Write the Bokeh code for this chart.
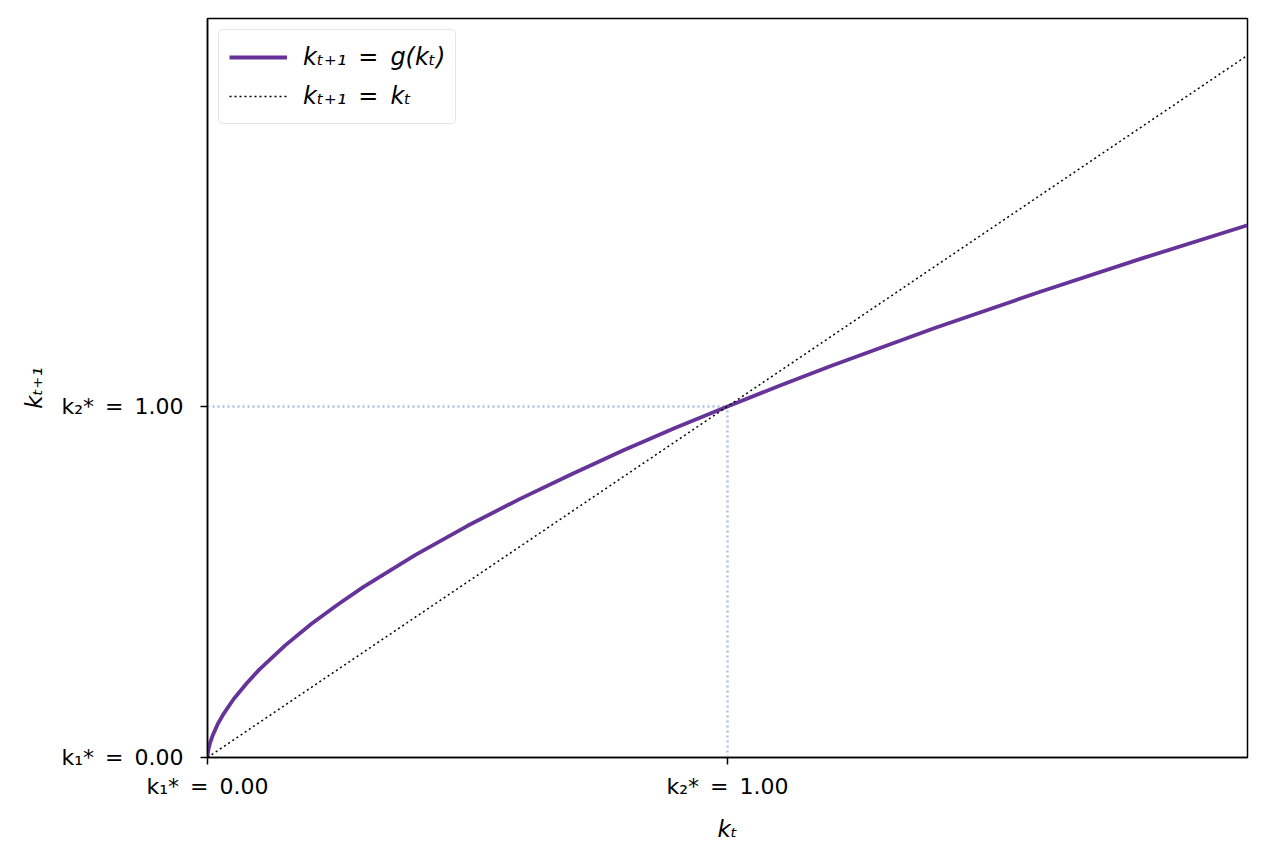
from bokeh.plotting import figure
from bokeh.models import Range1d, FixedTicker
from bokeh.embed import file_html
from bokeh.resources import INLINE

# Values
k_t = [0.0, 0.001, 0.002, 0.005, 0.01, 0.02, 0.03, 0.05, 0.075, 0.1, 0.15, 0.2, 0.25, 0.3,
       0.4, 0.5, 0.6, 0.7, 0.8, 0.9, 1.0, 1.1, 1.2, 1.4, 1.6, 1.8, 2.0]
g_k = [0.0, 0.016, 0.024, 0.042, 0.063, 0.096, 0.122, 0.166, 0.211, 0.251, 0.320, 0.381, 0.435, 0.486,
       0.577, 0.660, 0.736, 0.807, 0.875, 0.939, 1.0, 1.059, 1.116, 1.224, 1.326, 1.423, 1.516]
diag_x = [0.0, 2.0]
diag_y = [0.0, 2.0]
steady_states = [0.0, 1.0]
tick_labels = ["k₁*\u2002=\u20020.00", "k₂*\u2002=\u20021.00"]

FONT = "DejaVu Sans"

p = figure(width=1250, height=849, output_backend="svg", toolbar_location=None,
           x_range=Range1d(0, 2.0), y_range=Range1d(0, 2.105),
           min_border_left=207, min_border_right=3, min_border_top=18, min_border_bottom=92)

p.xgrid.visible = False
p.ygrid.visible = False
p.outline_line_color = "black"
p.outline_line_width = 1.5

# reference lines at the second steady state
k2 = steady_states[1]
p.line([0, k2], [k2, k2], line_color="#aec0e0", line_width=2.5, line_dash="2 3")
p.line([k2, k2], [0, k2], line_color="#aec0e0", line_width=2.5, line_dash="2 3")

p.line(k_t, g_k, line_color="#663399", line_width=3.8, legend_label="kₜ₊₁\u2002=\u2002g(kₜ)")
p.line(diag_x, diag_y, line_color="black", line_width=1.5, line_dash="2 3", legend_label="kₜ₊₁\u2002=\u2002kₜ")

for ax in (p.xaxis[0], p.yaxis[0]):
    ax.ticker = FixedTicker(ticks=steady_states)
    ax.major_label_overrides = {0: tick_labels[0], 1: tick_labels[1]}
    ax.major_label_text_font = FONT
    ax.major_label_text_font_size = "22px"
    ax.major_label_text_color = "black"
    ax.axis_label_text_font = FONT
    ax.axis_label_text_font_size = "23px"
    ax.axis_label_text_font_style = "italic"
    ax.axis_label_text_color = "black"
    ax.major_tick_out = 7
    ax.major_tick_in = 0
    ax.minor_tick_out = 0
    ax.minor_tick_in = 0
    ax.axis_line_color = "black"
    ax.axis_line_width = 1.5
    ax.major_tick_line_width = 1.5

p.xaxis.major_label_standoff = 9
p.yaxis.major_label_standoff = 17
p.xaxis.axis_label = "kₜ"
p.yaxis.axis_label = "kₜ₊₁"
p.xaxis.axis_label_standoff = 14
p.yaxis.axis_label_standoff = 12

p.legend.location = "top_left"
p.legend.margin = 11
p.legend.padding = 10
p.legend.spacing = 5
p.legend.label_standoff = 16
p.legend.label_text_font = FONT
p.legend.label_text_font_size = "24px"
p.legend.label_text_font_style = "italic"
p.legend.label_text_color = "black"
p.legend.glyph_width = 58
p.legend.glyph_height = 34
p.legend.label_height = 34
p.legend.border_line_color = "#cccccc"
p.legend.border_line_width = 1.5
p.legend.border_radius = 5
p.legend.background_fill_alpha = 0.8

open("out.html", "w").write(file_html(p, INLINE))
